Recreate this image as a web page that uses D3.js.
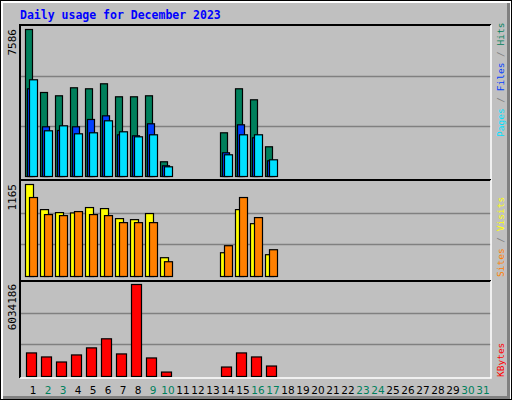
<!DOCTYPE html>
<html><head><meta charset="utf-8">
<script src="https://cdn.jsdelivr.net/npm/d3@7"></script>
<style>body{margin:0;background:#fff}</style>
</head><body>
<script>
// daily usage, december 2023
var days = d3.range(1, 32)
var weekend = [2, 3, 9, 10, 16, 17, 23, 24, 30, 31]
var hits   = [7586,4335,4165,4578,4526,4784,4113,4113,4165,759,0,0,0,2255,4526,3958,1533,0,0,0,0,0,0,0,0,0,0,0,0,0,0]
var files  = [4526,2565,2374,2565,2942,3131,2152,2100,2720,552,0,0,0,1223,2668,1997,810,0,0,0,0,0,0,0,0,0,0,0,0,0,0]
var pages  = [4991,2358,2616,2203,2255,2874,2307,2048,2152,500,0,0,0,1120,2152,2152,862,0,0,0,0,0,0,0,0,0,0,0,0,0,0]
var sites  = [1165,847,809,805,873,860,733,720,797,238,0,0,0,301,847,669,276,0,0,0,0,0,0,0,0,0,0,0,0,0,0]
var visits = [1000,784,771,822,784,771,682,682,682,187,0,0,0,390,1000,746,339,0,0,0,0,0,0,0,0,0,0,0,0,0,0]
var kbytes = [1546000,1282000,951000,1414000,1877000,2472000,1480000,6034186,1216000,291000,0,0,0,621000,1546000,1282000,687000,0,0,0,0,0,0,0,0,0,0,0,0,0,0]

var C = {hits:'#00805C', files:'#0040FF', pages:'#00E0FF', sites:'#FFFF00', visits:'#FF8000', kbytes:'#FF0000'}
var font = '"DejaVu Sans Mono", monospace'

var svg = d3.select('body').append('svg').attr('width', 512).attr('height', 400)
svg.append('rect').attr('width', 512).attr('height', 400).attr('fill', '#000')
svg.append('rect').attr('x', 1).attr('y', 1).attr('width', 510).attr('height', 398).attr('fill', '#fff')
svg.append('rect').attr('x', 3).attr('y', 3).attr('width', 507).attr('height', 396).attr('fill', '#808080')
svg.append('rect').attr('x', 3).attr('y', 3).attr('width', 504).attr('height', 393).attr('fill', '#C0C0C0')

svg.append('text').attr('x', 20).attr('y', 19).text('Daily usage for December 2023')
	.style('font-family', font).style('font-weight', 'bold').style('font-size', '11.5px').attr('fill', '#0000FF')

var x = d3.scaleBand().domain(days).range([25, 490])   // 15px per day

var panels = [
	{y0: 25, y1: 180, top: 29, bottom: 176, max: 7586, label: '7586', ly: 137,
	 series: [[hits, C.hits, 0, 7], [files, C.files, 2, 7], [pages, C.pages, 4, 8]],
	 legend: [['Pages', C.pages], [' / ', '#808080'], ['Files', C.files], [' / ', '#808080'], ['Hits', C.hits]]},
	{y0: 180, y1: 281, top: 184, bottom: 276, max: 1165, label: '1165', ly: 277,
	 series: [[sites, C.sites, 0, 8], [visits, C.visits, 4, 8]],
	 legend: [['Sites', C.visits], [' / ', '#808080'], ['Visits', C.sites]]},
	{y0: 281, y1: 378, top: 284, bottom: 376, max: 6034186, label: '6034186', ly: 377,
	 series: [[kbytes, C.kbytes, 1, 10]],
	 legend: [['KBytes', C.kbytes]]}
]

panels.forEach(function(p) {
	var g = svg.append('g')
	var span = p.bottom - p.top + 3
	// grid at thirds
	;[1, 2].forEach(function(k) {
		var gy = Math.round(p.bottom - span * k / 3) + 0.5
		g.append('line').attr('x1', 21).attr('x2', 491).attr('y1', gy).attr('y2', gy)
			.attr('stroke', '#808080').attr('stroke-width', 1.5)
	})
	var y = d3.scaleLinear().domain([0, p.max]).range([p.bottom, p.top])
	p.series.forEach(function(s) {
		g.selectAll(null).data(days.filter(function(d) { return s[0][d - 1] > 0 }))
			.enter().append('rect')
			.attr('x', function(d) { return x(d) + s[2] + 0.5 })
			.attr('y', function(d) { return y(s[0][d - 1]) + 0.5 })
			.attr('width', s[3])
			.attr('height', function(d) { return p.bottom - y(s[0][d - 1]) })
			.attr('fill', s[1]).attr('stroke', '#000').attr('stroke-width', 1.2)
	})
	// frame
	g.append('path').attr('d', 'M20,' + p.y1 + 'V' + p.y0 + 'H491').attr('fill', 'none').attr('stroke', '#000').attr('stroke-width', 2)
	g.append('path').attr('d', 'M491,' + p.y0 + 'V' + p.y1 + 'H20').attr('fill', 'none').attr('stroke', '#fff').attr('stroke-width', 1.5)
	// max label
	g.append('text').attr('transform', 'translate(16,' + (p.top) + ') rotate(-90)')
		.attr('text-anchor', 'end').text(p.label)
		.style('font-family', font).style('font-size', '11px').attr('fill', '#000')
	// legend
	var lt = g.append('text').attr('transform', 'translate(504,' + p.ly + ') rotate(-90)')
		.style('font-family', font).style('font-size', '9.5px')
	p.legend.forEach(function(l) { lt.append('tspan').text(l[0]).attr('fill', l[1]) })
})

svg.selectAll('text.day').data(days).enter().append('text').attr('class', 'day')
	.attr('x', function(d) { return x(d) + 8 }).attr('y', 394)
	.attr('text-anchor', 'middle').text(function(d) { return d })
	.style('font-family', '"DejaVu Sans", sans-serif').style('font-size', '10.5px')
	.attr('fill', function(d) { return weekend.indexOf(d) >= 0 ? '#00805C' : '#000' })
</script>
</body></html>
